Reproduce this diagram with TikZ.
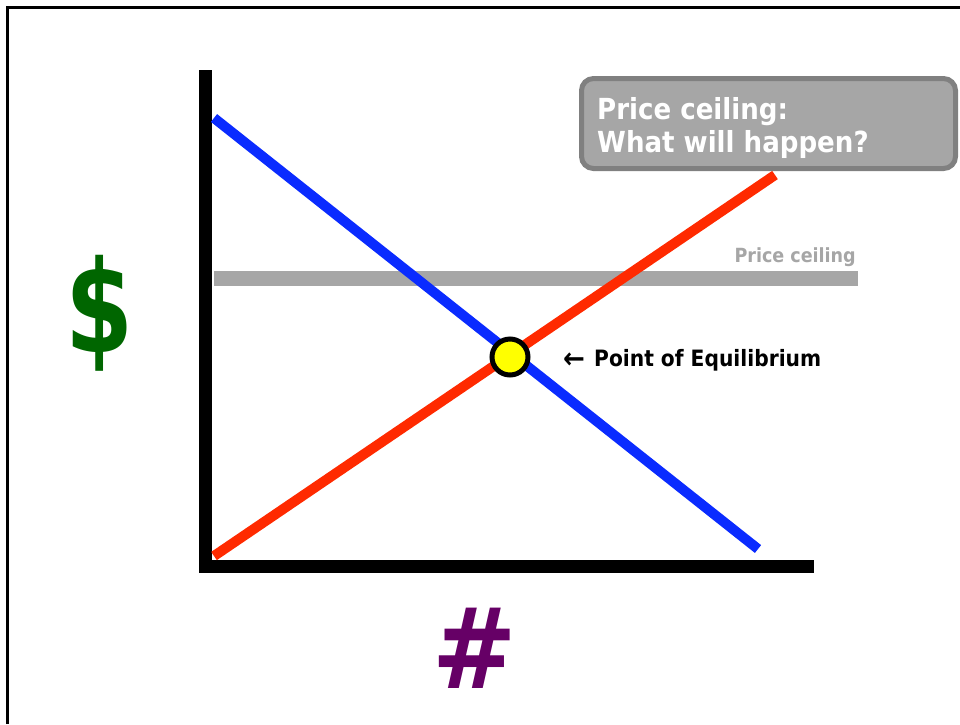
\documentclass[tikz,border=0pt]{standalone}
\usepackage{fontspec}
\setmainfont{DejaVu Sans}
\newfontfamily\condfont{DejaVu Sans Condensed}
\usetikzlibrary{arrows.meta,positioning}
\definecolor{demand}{HTML}{0A2BFF}
\definecolor{supply}{HTML}{FF2A00}
\definecolor{ceilgray}{HTML}{A6A6A6}
\definecolor{boxedge}{HTML}{808080}
\definecolor{dollar}{HTML}{006600}
\definecolor{hash}{HTML}{660066}
\definecolor{eqfill}{HTML}{FFFF00}

\tikzset{
  axis/.style={line width=13pt,black},
  curve/.style={line width=10pt},
  lbl/.style={font=\condfont\bfseries,inner sep=0pt}
}

\begin{document}
\begin{tikzpicture}[x=1pt,y=-1pt]
        \useasboundingbox (0,0) rectangle (960,724);
        % frame
        \draw[line width=3pt] (7,724) -- (7,7) -- (960,7);
        % axes
        \coordinate (top) at (205.5,70);
        \coordinate (origin) at (205.5,566.5);
        \coordinate (right) at (814,566.5);
        \draw[axis] (top) -- (205.5,573);
        \draw[axis] (199,566.5) -- (right);
        % price ceiling
        \coordinate (c1) at (214,278);
        \coordinate (c2) at (858,278);
        \draw[line width=15pt,ceilgray] (c1) -- (c2);
        \node[lbl,text=ceilgray,anchor=base east,font=\condfont\bfseries\fontsize{19.5}{22}\selectfont] (ceillbl) at (856,262) {Price ceiling};
        % demand and supply
        \coordinate (d1) at (214,118);
        \coordinate (d2) at (758,549);
        \coordinate (s1) at (214,556);
        \coordinate (s2) at (775,175);
        \draw[curve,demand] (d1) -- (d2);
        \draw[curve,supply] (s1) -- (s2);
        % equilibrium
        \node[circle,fill=eqfill,draw=black,line width=5pt,minimum size=36pt,inner sep=0pt] (eq) at (510,357) {};
        \node[lbl,anchor=base west,font=\condfont\bfseries\fontsize{29}{30}\selectfont] (eqarrow) at (563,368) {←};
        \node[lbl,anchor=base west,font=\condfont\bfseries\fontsize{22.5}{24}\selectfont] (eqlbl) at (594,366) {Point of Equilibrium};
        % question box
        \node[rounded corners=12pt,fill=ceilgray,draw=boxedge,line width=5pt,minimum width=374pt,minimum height=90pt] (qbox) at (768.5,123.5) {};
        \node[lbl,text=white,anchor=north west,align=left,font=\condfont\bfseries\fontsize{29}{33}\selectfont] (qtext) at (597,97) {Price ceiling:\\What will happen?};
        % axis labels
        \node[text=dollar,font=\condfont\bfseries\fontsize{128}{128}\selectfont,inner sep=0pt,xscale=0.85] (price) at (100,313) {\$};
        \node[text=hash,font=\condfont\bfseries\fontsize{112}{112}\selectfont,inner sep=0pt] (qty) at (475,648) {\#};
\end{tikzpicture}
\end{document}
